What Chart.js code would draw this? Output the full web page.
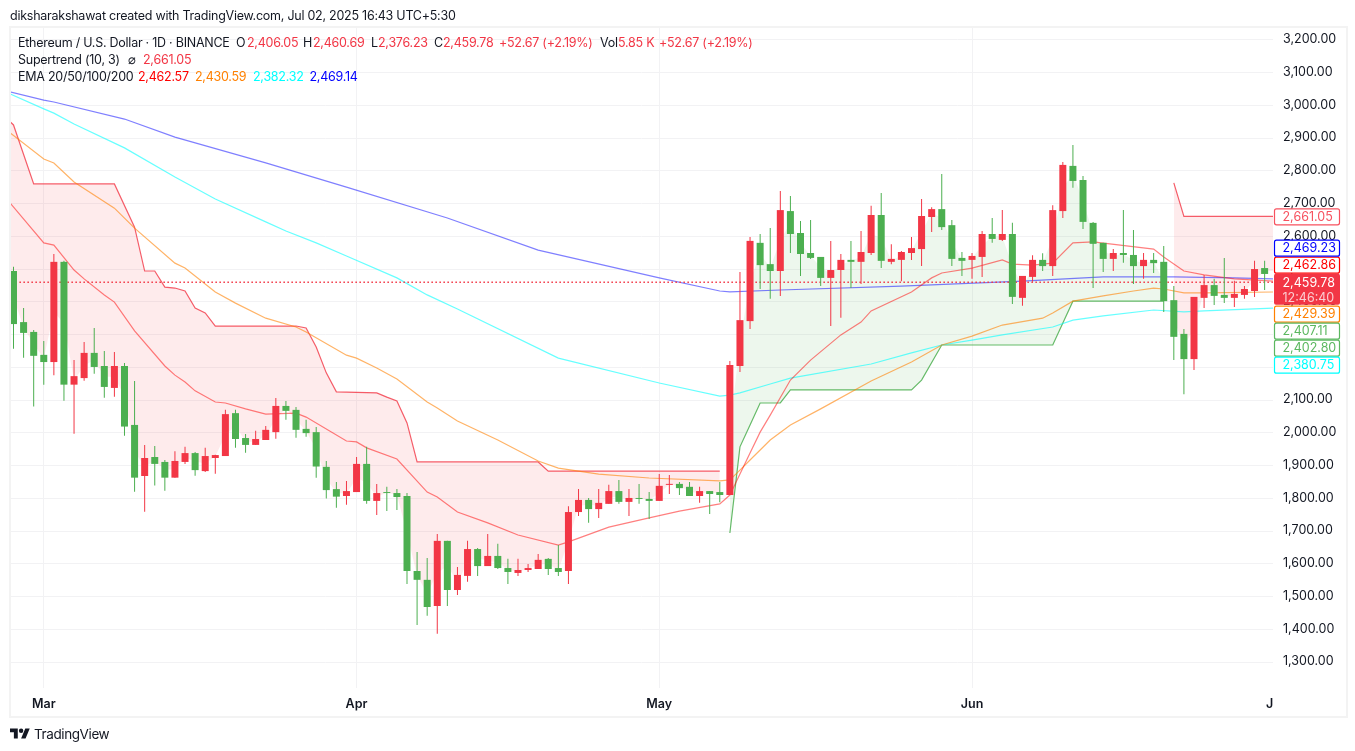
<!DOCTYPE html>
<html><head><meta charset="utf-8">
<style>
html,body{margin:0;padding:0;background:#fff;width:1355px;height:751px;overflow:hidden}
#wrap{position:relative;width:1355px;height:751px;font-family:Inter,"Noto Sans",sans-serif;color:#131722}
canvas{position:absolute;left:0;top:0}
#frame{position:absolute;left:9px;top:26px;width:1335px;height:688px;border:2px solid #f3f3f3;pointer-events:none}
.t{position:absolute;white-space:nowrap;font-size:12.5px;line-height:16px;letter-spacing:-.25px}
</style>
<script src="https://cdn.jsdelivr.net/npm/chart.js@4"></script>
</head><body><div id="wrap">
<canvas id="c" width="1355" height="751"></canvas>
<div id="frame"></div>
<div id="hdr"></div>
<svg style="position:absolute;left:10px;top:726px" width="20" height="16" viewBox="0 0 36 28"><path fill="#131722" d="M14 22H7V11H0V4h14v18zM28 22h-8l7.5-18h8L28 22z"/><circle fill="#131722" cx="20" cy="8" r="4"/></svg>
</div>
<script>
const opens=[2494,2338,2308,2238,2216,2522,2147,2167,2244,2204,2137,2204,2024,1868,1926,1911,1863,1911,1938,1883,1923,1929,2060,1984,1963,1978,2002,2082,2070,2012,2002,1896,1828,1807,1819,1905,1792,1819,1816,1807,1578,1551,1471,1670,1520,1563,1645,1593,1624,1587,1572,1581,1584,1615,1587,1578,1758,1795,1767,1783,1822,1789,1801,1798,1792,1841,1844,1835,1807,1822,1819,1810,2204,2341,2580,2515,2494,2677,2610,2549,2537,2473,2497,2528,2522,2549,2665,2522,2528,2549,2561,2659,2683,2634,2534,2528,2537,2607,2589,2607,2412,2476,2528,2509,2677,2815,2772,2641,2580,2531,2549,2543,2509,2528,2522,2405,2302,2225,2412,2451,2421,2412,2421,2433,2503];
const highs=[2507,2381,2314,2280,2546,2525,2222,2277,2320,2250,2247,2213,2158,1963,1960,1917,1944,1957,1941,1954,1933,2070,2070,1996,2006,2021,2106,2097,2079,2040,2018,1914,1850,1853,1926,1957,1844,1835,1828,1816,1636,1618,1691,1670,1590,1670,1648,1691,1661,1615,1615,1599,1630,1618,1657,1776,1828,1801,1828,1841,1856,1828,1844,1819,1874,1871,1850,1850,1835,1822,1850,2219,2491,2598,2607,2625,2738,2723,2647,2650,2537,2586,2546,2586,2616,2693,2732,2576,2555,2598,2714,2689,2790,2650,2552,2549,2616,2656,2680,2641,2479,2542,2548,2695,2827,2879,2784,2644,2580,2561,2680,2619,2549,2549,2570,2448,2317,2415,2482,2470,2534,2464,2448,2525,2525];
const lows=[2257,2229,2080,2147,2176,2098,1997,2159,2180,2107,2110,1991,1820,1759,1839,1823,1863,1905,1869,1880,1875,1929,1954,1939,1963,1978,1982,2040,1985,1988,1863,1799,1771,1780,1819,1783,1749,1761,1764,1538,1413,1441,1386,1471,1505,1545,1563,1593,1584,1538,1563,1575,1584,1566,1563,1538,1746,1725,1740,1783,1783,1746,1783,1737,1792,1813,1810,1807,1786,1752,1788,1810,2186,2317,2439,2409,2418,2549,2479,2531,2448,2326,2351,2442,2454,2543,2503,2515,2463,2528,2509,2613,2619,2509,2479,2470,2476,2580,2586,2393,2388,2461,2494,2479,2656,2748,2622,2442,2491,2494,2519,2454,2470,2488,2369,2222,2118,2192,2381,2390,2396,2384,2409,2415,2436];
const closes=[2332,2305,2235,2216,2522,2147,2173,2244,2201,2140,2204,2019,1863,1923,1905,1863,1914,1938,1886,1929,1932,2057,1981,1963,1981,2009,2082,2067,2009,1999,1897,1825,1805,1822,1905,1792,1816,1816,1804,1578,1551,1468,1670,1520,1566,1645,1593,1624,1587,1575,1581,1587,1612,1584,1575,1758,1795,1767,1786,1822,1789,1801,1798,1792,1838,1844,1831,1807,1822,1813,1810,2207,2344,2586,2512,2494,2680,2607,2546,2534,2473,2497,2528,2522,2552,2665,2525,2531,2552,2564,2662,2683,2628,2531,2525,2540,2607,2592,2607,2415,2479,2528,2509,2680,2818,2769,2644,2577,2531,2549,2543,2509,2528,2518,2402,2293,2225,2415,2451,2418,2412,2424,2439,2500,2485];

const ema20=[[-1,2726],[3,2580],[4,2573],[6,2497],[7,2470],[9,2421],[10,2399],[12,2311],[15,2204],[16,2176],[17,2155],[18,2128],[20,2094],[21,2091],[23,2073],[25,2057],[28,2060],[29,2048],[33,1975],[34,1972],[35,1954],[38,1920],[41,1819],[42,1804],[44,1758],[47,1725],[50,1688],[54,1657],[55,1667],[59,1712],[63,1740],[66,1761],[70,1783],[71,1810],[72,1874],[73,1938],[74,2002],[75,2054],[77,2161],[79,2222],[82,2299],[84,2338],[85,2372],[89,2430],[91,2473],[92,2488],[95,2503],[98,2528],[99,2515],[101,2512],[103,2518],[105,2580],[107,2583],[113,2561],[114,2537],[116,2494],[118,2482],[121,2470],[125,2463]];
const ema50=[[-1,2932],[3,2836],[4,2824],[6,2766],[10,2686],[12,2625],[16,2518],[17,2503],[20,2430],[22,2396],[25,2350],[28,2323],[29,2308],[33,2237],[34,2228],[36,2198],[38,2164],[41,2094],[42,2076],[44,2036],[48,1978],[52,1914],[54,1892],[58,1874],[63,1862],[70,1853],[71,1856],[72,1886],[73,1917],[75,1978],[77,2024],[80,2073],[85,2158],[89,2216],[92,2268],[95,2295],[98,2329],[102,2350],[103,2366],[105,2402],[108,2418],[111,2433],[113,2442],[114,2439],[116,2427],[118,2427],[125,2430]];
const ema100=[[-1,3044],[3,2989],[4,2976],[6,2943],[11,2870],[16,2781],[20,2714],[25,2644],[27,2616],[30,2580],[33,2540],[38,2473],[41,2421],[44,2378],[54,2228],[64,2152],[70,2112],[71,2115],[72,2122],[75,2149],[77,2167],[85,2210],[89,2244],[92,2268],[95,2283],[98,2299],[103,2323],[105,2344],[108,2357],[113,2375],[116,2369],[118,2372],[125,2381]];
const ema200=[[-1,3046],[3,3016],[4,3010],[11,2958],[16,2903],[25,2824],[33,2750],[43,2656],[52,2558],[64,2473],[70,2433],[71,2430],[76,2436],[88,2448],[100,2463],[108,2476],[115,2476],[121,2473],[125,2470]];
const superBearA=[[-1,2970],[0,2940],[2,2760],[10,2760],[12,2628],[13,2494],[14,2494],[15,2445],[16,2442],[17,2433],[18,2381],[19,2366],[20,2326],[28,2326],[29,2320],[30,2262],[31,2183],[32,2125],[36,2122],[37,2109],[38,2097],[39,2030],[40,1911],[52,1911],[53,1883],[70,1883]];
const superBull=[[71,1694],[72,1957],[73,2024],[74,2091],[76,2091],[77,2131],[89,2131],[90,2161],[92,2268],[103,2268],[105,2402],[114,2402]];
const superBearB=[[115,2763],[116,2661],[125,2661]];
const lastClose=2459.78;
const countdown="12:46:40";
const yTicks=[3200,3100,3000,2900,2800,2700,2600,2500,2400,2300,2200,2100,2000,1900,1800,1700,1600,1500,1400,1300];
const monthTicks=[3,34,64,95,124.5];
const monthLabels=["Mar","Apr","May","Jun","J"];
const tagValues=[2661.05,2469.23,2462.86,2429.39,2407.11,2402.80,2380.75];
const tagColors=["#f7525f","#0000ff","#ff0000","#ff8000","#5cb860","#5cb860","#00ffff"];

const RED="#f23645",GREEN="#4caf50";
const idx=opens.map((_,i)=>i);
const isUp=idx.map(i=>closes[i]>opens[i]);
const candleColors=idx.map(i=>isUp[i]?RED:GREEN);
const pts=a=>a.map(p=>({x:p[0],y:p[1]}));
const mid=i=>(opens[i]+closes[i])/2;
const midPts=(a,b,pre,post)=>{const r=[];if(pre!==undefined)r.push({x:pre,y:mid(a)});for(let i=a;i<=b;i++)r.push({x:i,y:mid(i)});if(post!==undefined)r.push({x:post,y:mid(b)});return r;};
const line=(label,data,color,order,extra)=>Object.assign({type:"line",label,data:pts(data),borderColor:color,borderWidth:1.2,pointRadius:0,tension:0,fill:false,order},extra||{});

const datasets=[
 line("Supertrend down",superBearA,"rgba(242,54,69,.8)",5),                // 0
 line("Supertrend up",superBull,"rgba(76,175,80,.85)",5),                  // 1
 line("Supertrend down 2",superBearB,"rgba(242,54,69,.8)",5),              // 2
 {type:"line",label:"fill a",data:midPts(0,70,-1),borderWidth:0,pointRadius:0,tension:0,backgroundColor:"rgba(242,54,69,.1)",fill:{target:0},order:9},
 {type:"line",label:"fill b",data:midPts(71,114),borderWidth:0,pointRadius:0,tension:0,backgroundColor:"rgba(76,175,80,.1)",fill:{target:1},order:9},
 {type:"line",label:"fill c",data:midPts(115,124,undefined,125),borderWidth:0,pointRadius:0,tension:0,backgroundColor:"rgba(242,54,69,.1)",fill:{target:2},order:9},
 line("EMA 20",ema20,"rgba(255,0,0,.5)",4),
 line("EMA 50",ema50,"rgba(255,128,0,.6)",4),
 line("EMA 100",ema100,"rgba(0,255,255,.6)",4),
 line("EMA 200",ema200,"rgba(0,0,255,.5)",4),
 {type:"line",label:"last",data:[{x:-1,y:lastClose},{x:125,y:lastClose}],borderColor:RED,borderWidth:1.4,borderDash:[1.5,2.5],pointRadius:0,order:3},
 {type:"bar",label:"wick",data:idx.map(i=>({x:i,y:[lows[i],highs[i]]})),backgroundColor:candleColors,barThickness:1,grouped:false,inflateAmount:0,order:2},
 {type:"bar",label:"body",data:idx.map(i=>({x:i,y:[opens[i],closes[i]]})),backgroundColor:candleColors,barThickness:7,grouped:false,inflateAmount:0,order:1}
];

const fmt=v=>v.toLocaleString("en-US",{minimumFractionDigits:2,maximumFractionDigits:2});

const tagsPlugin={id:"tags",afterDraw(ch){
 const y=ch.scales.y,ctx=ch.ctx,L=1274,W=66,H=16,gap=1;
 ctx.save();
 ctx.font='12.5px Inter';ctx.textBaseline="middle";ctx.textAlign="left";
 const yMain=y.getPixelForValue(lastClose);
 const mainTop=yMain-8.5,mainBot=yMain+22.5;
 const box=(cy,c,v)=>{
   ctx.fillStyle="#fff";ctx.strokeStyle=c;ctx.lineWidth=1.2;
   ctx.beginPath();ctx.roundRect(L+.5,cy-H/2+.5,W-1,H,2);ctx.fill();ctx.stroke();
   ctx.fillStyle=c;ctx.fillText(fmt(v),L+8.5,cy+.7);
 };
 const above=tagValues.map((v,i)=>[v,i]).filter(p=>p[0]>lastClose).sort((a,b)=>a[0]-b[0]);
 const below=tagValues.map((v,i)=>[v,i]).filter(p=>p[0]<lastClose).sort((a,b)=>b[0]-a[0]);
 let edge=mainTop;
 above.forEach(p=>{const cy=Math.min(y.getPixelForValue(p[0]),edge-H/2-gap);box(cy,tagColors[p[1]],p[0]);edge=cy-H/2;});
 edge=mainBot;
 below.forEach(p=>{const cy=Math.max(y.getPixelForValue(p[0]),edge+H/2+gap);box(cy,tagColors[p[1]],p[0]);edge=cy+H/2;});
 ctx.fillStyle=RED;ctx.beginPath();ctx.roundRect(L,mainTop,W,mainBot-mainTop,2);ctx.fill();
 ctx.fillStyle="#fff";ctx.fillText(fmt(lastClose),L+8.5,yMain+1);
 ctx.fillStyle="rgba(255,255,255,.75)";ctx.fillText(countdown,L+8.5,yMain+16);
 ctx.restore();
}};

new Chart(document.getElementById("c"),{
 data:{datasets},
 plugins:[tagsPlugin],
 options:{
  responsive:false,animation:false,
  layout:{padding:{left:10,top:27,right:10,bottom:0}},
  plugins:{legend:{display:false},tooltip:{enabled:false},title:{display:false}},
  scales:{
   x:{type:"linear",offset:false,min:-0.347,max:124.83,
     afterBuildTicks(s){s.ticks=monthTicks.map(v=>({value:v}));},
     afterFit(s){s.height=63;},
     grid:{offset:false,drawTicks:false,color:c=>c.tick&&c.tick.value===124.5?"rgba(0,0,0,0)":"#f2f2f4",lineWidth:1},
     border:{display:false},
     ticks:{autoSkip:false,maxRotation:0,padding:9,color:"#131722",font:{family:"Inter",size:12.5,weight:"600"},
       callback:v=>monthLabels[monthTicks.indexOf(v)]}},
   y:{type:"linear",position:"right",min:1220.7,max:3239.1,
     afterBuildTicks(s){s.ticks=yTicks.map(v=>({value:v}));},
     afterFit(s){s.width=72;},
     grid:{drawTicks:false,color:"#f2f2f4",lineWidth:1},
     border:{display:false},
     ticks:{padding:10,labelOffset:-0.5,color:"#131722",font:{family:"Inter",size:12.5},autoSkip:false,
       callback:v=>fmt(v)}}
  }
 }
});

const hdrItems=[
 ["diksharakshawat created with TradingView.com, Jul 02, 2025 16:43 UTC+5:30",10,8,"#131722"],
 ["Ethereum / U.S. Dollar · 1D · BINANCE",18,35,"#131722"],
 ["O",236,35,"#131722"],["2,406.05",247,35,RED],
 ["H",303,35,"#131722"],["2,460.69",313,35,RED],
 ["L",371,35,"#131722"],["2,376.23",378,35,RED],
 ["C",434,35,"#131722"],["2,459.78",443,35,RED],
 ["+52.67 (+2.19%)",499,35,RED],
 ["Vol",600,35,"#131722"],["5.85 K",618,35,RED],
 ["+52.67 (+2.19%)",659,35,RED],
 ["Supertrend (10, 3)",18,52,"#131722"],["⌀",128,52,"#131722"],["2,661.05",143,52,RED],
 ["EMA 20/50/100/200",18,69,"#131722"],["2,462.57",138,69,"#ff0000"],["2,430.59",195,69,"#ff8000"],["2,382.32",253,69,"#00ffff"],["2,469.14",309.5,69,"#0000ff"],
 ["TradingView",34,726,"#131722"]
];
const hdr=document.getElementById("hdr");
hdrItems.forEach(it=>{const s=document.createElement("span");s.className="t";s.textContent=it[0];s.style.left=it[1]+"px";s.style.top=it[2]+"px";s.style.color=it[3];if(it[0]==="TradingView"){s.style.fontSize="13.5px";s.style.letterSpacing="-.4px";}hdr.appendChild(s);});
</script>
</body></html>
